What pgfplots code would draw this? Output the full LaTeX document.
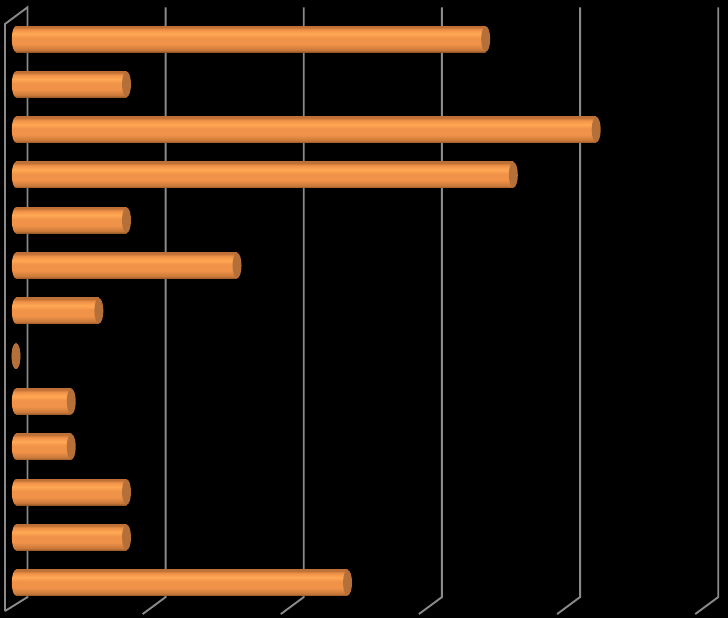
\documentclass[border=0pt]{standalone}
\usepackage{pgfplots}
\usepackage{pgfplotstable}
\pgfplotsset{compat=1.18}

\definecolor{gridgray}{RGB}{138,138,138}
\definecolor{cbot}{RGB}{150,88,40}
\definecolor{cdark}{RGB}{200,120,58}
\definecolor{cmid}{RGB}{240,146,72}
\definecolor{clight}{RGB}{255,168,84}
\definecolor{ctop}{RGB}{190,112,54}
\definecolor{capcol}{RGB}{180,112,56}

% cylinder look: colours run bottom (25bp) to top (75bp)
\pgfdeclareverticalshading{cyl}{100bp}{color(0bp)=(cbot); color(25bp)=(cbot);
  color(29bp)=(cdark); color(40bp)=(cmid); color(52bp)=(cmid);
  color(60bp)=(clight); color(68bp)=(cmid); color(73bp)=(ctop); color(75bp)=(ctop);
  color(100bp)=(ctop)}

\pgfdeclareplotmark{capL}{\pgfpathellipse{\pgfpointorigin}{\pgfpoint{4.2bp}{0bp}}{\pgfpoint{0bp}{13bp}}\pgfshadepath{cyl}{0}\pgfusepath{discard}}
\pgfdeclareplotmark{capR}{\pgfpathellipse{\pgfpointorigin}{\pgfpoint{4.5bp}{0bp}}{\pgfpoint{0bp}{12.8bp}}\pgfusepathqfill}

\pgfplotstableread{
row val base
1 17 0
2 4 0
3 21 0
4 18 0
5 4 0
6 8 0
7 3 0
8 0 0
9 2 0
10 2 0
11 4 0
12 4 0
13 12 0
}\bardata

\begin{document}
\begin{tikzpicture}
\begin{axis}[
    width=728bp, height=618bp,
    scale only axis,
    xmin=-0.579, xmax=25.77,
    ymin=0.139, ymax=13.78,
    y dir=reverse,
    hide axis,
    axis background/.style={fill=black},
    clip=false,
]

% perspective gridlines (back wall + floor)
\addplot[gridgray, line width=1.9bp] coordinates {(-0.398,13.627) (-0.398,0.669) (0.416,0.300) (0.416,13.318) (-0.398,13.627)};
\addplot[gridgray, line width=1.9bp] coordinates {(4.584,13.693) (5.416,13.318) (5.416,0.300)};
\addplot[gridgray, line width=1.9bp] coordinates {(9.584,13.693) (10.416,13.318) (10.416,0.300)};
\addplot[gridgray, line width=1.9bp] coordinates {(14.584,13.693) (15.416,13.318) (15.416,0.300)};
\addplot[gridgray, line width=1.9bp] coordinates {(19.584,13.693) (20.416,13.318) (20.416,0.300)};
\addplot[gridgray, line width=1.9bp] coordinates {(24.584,13.693) (25.416,13.318) (25.416,0.300)};

% rounded base of each cylinder
\addplot[only marks, mark=capL, color=cmid] table[x=base, y=row] {\bardata};

% bars, one plot per row so each gets its own shading
\pgfplotsinvokeforeach{1,...,13}{
  \addplot[xbar, bar width=0.574, draw=none, shading=cyl,
    restrict y to domain=#1:#1] table[x=val, y=row] {\bardata};
}

% end caps
\addplot[only marks, mark=capR, color=capcol] table[x=val, y=row] {\bardata};

\end{axis}
\end{tikzpicture}
\end{document}
